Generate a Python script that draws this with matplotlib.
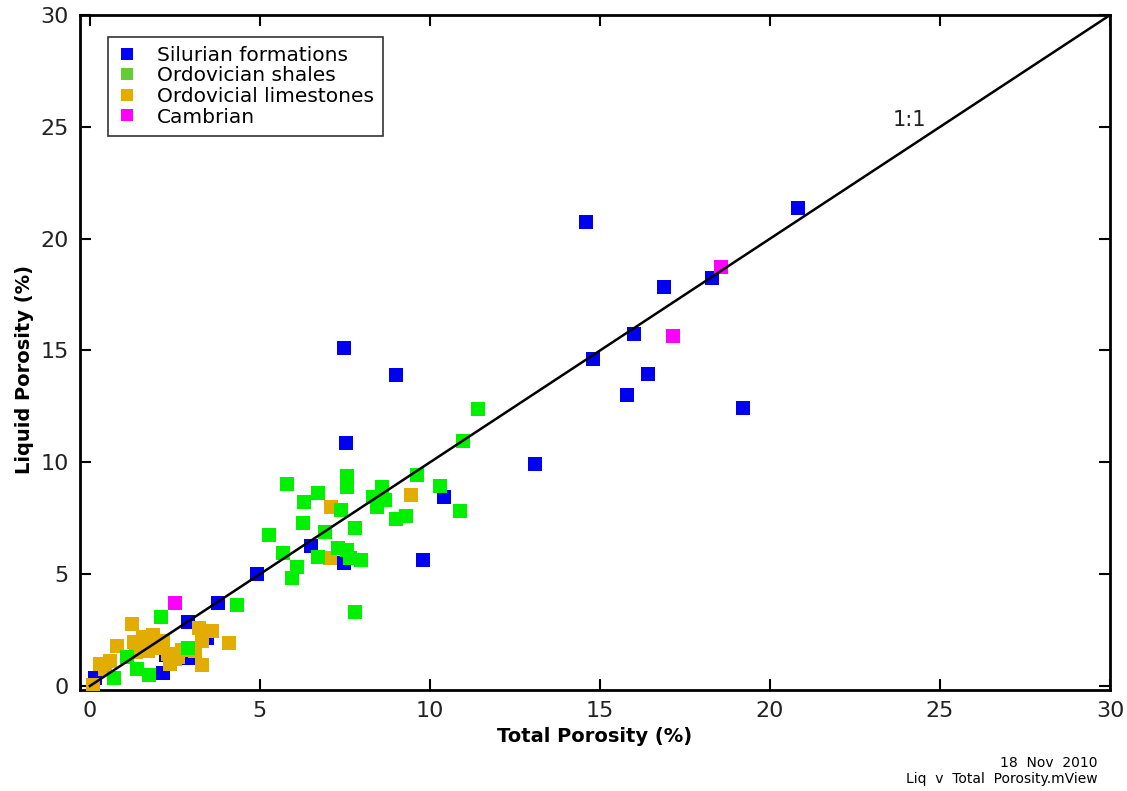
"""Liquid vs total porosity cross-plot by formation group."""

import matplotlib

matplotlib.use("Agg")
import matplotlib.pyplot as plt
import numpy as np

# Total porosity (%) and liquid porosity (%) per formation group
silurian_x = [20.81, 14.59, 18.30, 16.89, 16.01, 14.80, 16.42, 15.80, 19.20, 13.08,
              7.47, 9.00, 7.53, 10.41, 9.79, 6.49, 7.47, 4.92, 3.77, 2.89,
              3.43, 2.89, 2.16, 2.25, 0.15]
silurian_y = [21.35, 20.73, 18.25, 17.85, 15.72, 14.60, 13.96, 13.00, 12.44, 9.91,
              15.11, 13.90, 10.86, 8.46, 5.63, 6.26, 5.51, 4.99, 3.72, 2.85,
              2.13, 1.24, 0.60, 1.40, 0.35]

limestone_x = [0.10, 0.30, 0.45, 0.60, 0.80, 1.25, 1.30, 1.35, 1.55, 1.75,
               1.70, 1.85, 2.15, 2.30, 2.35, 2.50, 2.70, 3.10, 3.20, 3.30,
               3.30, 3.60, 4.10, 2.00, 2.60, 7.10, 7.05, 9.43]
limestone_y = [0.05, 1.00, 0.75, 1.10, 1.80, 2.75, 1.95, 1.50, 2.20, 2.10,
               1.55, 2.30, 2.00, 1.45, 1.00, 1.20, 1.60, 1.55, 2.60, 2.00,
               0.95, 2.45, 1.90, 1.70, 1.30, 8.00, 5.70, 8.54]

shale_x = [0.70, 1.08, 1.40, 1.75, 2.10, 2.90, 4.34, 5.80, 6.72, 6.29,
           7.37, 6.27, 7.79, 5.27, 6.91, 5.67, 7.30, 7.55, 6.72, 7.65,
           7.96, 6.08, 5.93, 7.79, 7.55, 7.55, 8.58, 8.33, 8.68, 8.43,
           9.31, 9.00, 9.63, 10.29, 10.88, 10.98, 11.40]
shale_y = [0.35, 1.30, 0.75, 0.50, 3.07, 1.70, 3.62, 9.03, 8.64, 8.24,
           7.87, 7.27, 7.05, 6.75, 6.90, 5.93, 6.16, 6.08, 5.75, 5.71,
           5.63, 5.31, 4.81, 3.32, 9.40, 8.90, 8.88, 8.46, 8.31, 8.01,
           7.60, 7.45, 9.43, 8.95, 7.84, 10.95, 12.37]

cambrian_x = [2.50, 17.16, 18.56]
cambrian_y = [3.72, 15.65, 18.72]

BLUE = "#0000f0"
GREEN = "#00f000"
ORANGE = "#e3ac00"
MAGENTA = "#ff00ff"

plt.rcParams["font.family"] = ["DejaVu Sans"]

fig = plt.figure(figsize=(11.27, 7.91), dpi=100)
ax = fig.add_axes([0.071, 0.1277, 0.914, 0.8533])

mk = dict(marker="s", s=100, linewidths=0)
ax.scatter(silurian_x, silurian_y, color=BLUE, zorder=2, **mk)
ax.scatter(limestone_x, limestone_y, color=ORANGE, zorder=3, **mk)
ax.scatter(shale_x, shale_y, color=GREEN, zorder=4, **mk)
ax.scatter(cambrian_x, cambrian_y, color=MAGENTA, zorder=5, **mk)

# 1:1 reference line
one = np.array([0, 30])
ax.plot(one, one, color="black", linewidth=1.8, zorder=6)
ax.text(24.1, 25.3, "1:1", fontsize=15, ha="center", va="center", color="#222222")

ax.set_xlim(-0.29, 30)
ax.set_ylim(-0.18, 30)
ax.set_xticks(range(0, 31, 5))
ax.set_yticks(range(0, 31, 5))
ax.tick_params(direction="in", length=8, width=1.5, labelsize=16,
               labelcolor="#222222", top=True, right=True, pad=8)
for sp in ax.spines.values():
    sp.set_linewidth(2)

ax.set_xlabel("Total Porosity (%)", fontsize=14, fontweight="bold", labelpad=4)
ax.set_ylabel("Liquid Porosity (%)", fontsize=14, fontweight="bold")
ax.yaxis.set_label_coords(-0.045, 0.475)

handles = [
    plt.Line2D([], [], marker="s", linestyle="none", markersize=9, color=c, markeredgewidth=0)
    for c in ["#0000ff", "#66cc33", "#e3ac00", "#ff00ff"]
]
labels = ["Silurian formations", "Ordovician shales", "Ordovicial limestones", "Cambrian"]
leg = ax.legend(handles, labels, loc="upper left", bbox_to_anchor=(0.027, 0.968),
                fontsize=14.5, frameon=True, fancybox=False, edgecolor="black",
                handletextpad=1.0, labelspacing=0.08, borderpad=0.45,
                handlelength=1.0, borderaxespad=0)
leg.get_frame().set_linewidth(1.2)

fig.text(0.974, 0.026, "18  Nov  2010", fontsize=10, ha="right", va="bottom")
fig.text(0.974, 0.006, "Liq  v  Total  Porosity.mView", fontsize=10, ha="right", va="bottom")

fig.savefig("out.png", dpi=100)
plt.close(fig)
